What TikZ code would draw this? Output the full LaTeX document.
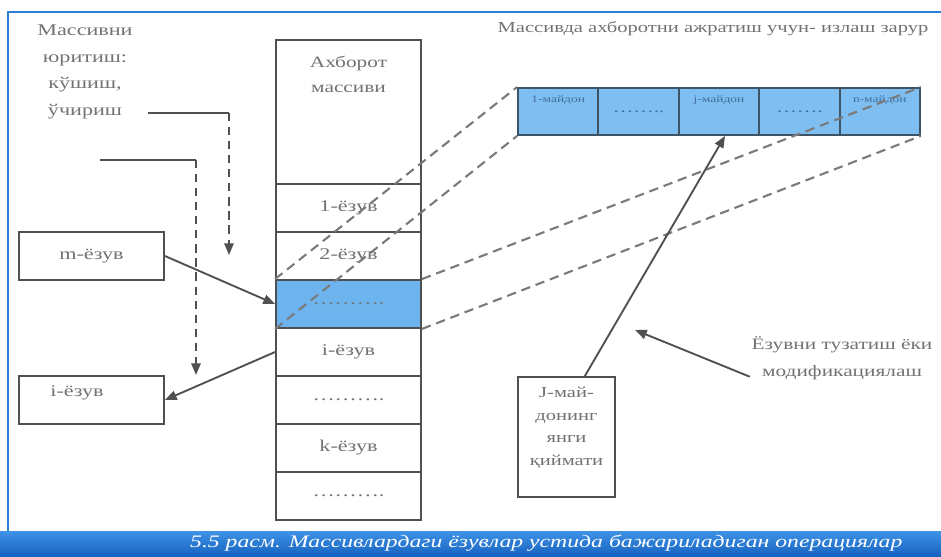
\documentclass[tikz,border=0pt]{standalone}
\usepackage{fontspec}
\setmainfont{Liberation Serif}[FakeStretch=1.35]
\usetikzlibrary{arrows.meta, positioning}

\definecolor{frameblue}{HTML}{2B7FD6}
\definecolor{capdark}{HTML}{1560BE}
\definecolor{caplight}{HTML}{3E93E6}
\definecolor{rowblue}{HTML}{6DB3EE}
\definecolor{fieldblue}{HTML}{7EBEF1}
\definecolor{fieldedge}{HTML}{3D5366}
\definecolor{fieldtext}{HTML}{3F6F9C}
\definecolor{linegray}{HTML}{505050}
\definecolor{dashgray}{HTML}{7A7A7A}
\definecolor{textgray}{HTML}{727272}

\begin{document}
\begin{tikzpicture}[
                x = 0.03cm, y = -0.03cm,
                cellbox/.style = {
                    rectangle,
                    draw            = linegray,
                    line width      = 1.6pt,
                    fill            = white,
                    minimum width   = 4.35cm,
                    minimum height  = 1.44cm,
                    inner sep       = 0pt,
                    text            = textgray,
                    font            = \fontsize{14}{16}\selectfont
                },
                fieldbox/.style = {
                    rectangle,
                    draw            = fieldedge,
                    line width      = 1.6pt,
                    fill            = fieldblue,
                    minimum width   = 2.41cm,
                    minimum height  = 1.41cm,
                    inner sep       = 0pt,
                    text            = fieldtext,
                    font            = \fontsize{13}{14}\selectfont
                },
                fieldlab/.style = {
                    anchor = north, yshift = -4pt,
                    text   = fieldtext,
                    font   = \fontsize{8.5}{9}\selectfont
                },
                plaintext/.style = {
                    text  = textgray,
                    align = center,
                    font  = \fontsize{14}{22.5}\selectfont
                },
                bigarrow/.style = {
                    draw = linegray, line width = 1.6pt,
                    -{Triangle[length = 10pt, width = 8pt]}
                },
                dasharrow/.style = {bigarrow, dash pattern = on 7pt off 5pt},
                spread/.style = {
                    draw = dashgray, line width = 1.8pt,
                    dash pattern = on 8pt off 5pt
                }
            ]

                \useasboundingbox (0, 0) rectangle (941, 557);

                \draw[frameblue, line width = 2.5pt] (8, 531) -- (8, 12) -- (941, 12);
                \shade[top color = caplight, bottom color = capdark] (0, 531) rectangle (941, 557);
                \node[anchor = west, text = white, font = \fontsize{15}{17}\selectfont\itshape] (caption) at (186, 543)
                    {5.5 расм. Массивлардаги ёзувлар устида бажариладиган операциялар};

                \node[cellbox, minimum height = 4.32cm,
                      label = {[plaintext, font = \fontsize{13.5}{21}\selectfont, anchor = north, yshift = -0.4cm]north:{Ахборот\\массиви}}] (info) at (348.5, 112) {};
                \node[cellbox] (rowa) at (348.5, 208) {1-ёзув};
                \node[cellbox] (rowb) at (348.5, 256) {2-ёзув};
                \node[cellbox, fill = rowblue] (rowsel) at (348.5, 304) {……….};
                \node[cellbox] (rowi) at (348.5, 352) {i-ёзув};
                \node[cellbox] (rowd) at (348.5, 400) {……….};
                \node[cellbox] (rowk) at (348.5, 448) {k-ёзув};
                \node[cellbox] (rowe) at (348.5, 496) {……….};

                \node[cellbox] (mrec) at (91.5, 256) {m-ёзув};
                \node[cellbox] (irec) at (91.5, 400) {};
                \node[plaintext] at (77, 393) {i-ёзув};

                \node[plaintext, font = \fontsize{14}{22.7}\selectfont] (manage) at (85, 72) {Массивни\\юритиш:\\кўшиш,\\ўчириш};
                \node[plaintext, font = \fontsize{13}{15}\selectfont] (title) at (713, 29) {Массивда ахборотни ажратиш учун- излаш зарур};

                \node[fieldbox, label = {[fieldlab]north:1-майдон}] (fa) at (558.2, 111.5) {};
                \node[fieldbox] (fb) at (638.6, 111.5) {……..};
                \node[fieldbox, label = {[fieldlab]north:j-майдон}] (fc) at (719, 111.5) {};
                \node[fieldbox] (fd) at (799.4, 111.5) {…….};
                \node[fieldbox, label = {[fieldlab]north:n-майдон}] (fe) at (879.8, 111.5) {};

                \node[cellbox, minimum width = 2.91cm, minimum height = 3.6cm,
                      label = {[plaintext, font = \fontsize{13}{19.5}\selectfont, anchor = north, yshift = -0.2cm]north:{J-май-\\донинг\\янги\\қиймати}}] (newval) at (566.5, 437) {};
                \node[plaintext, font = \fontsize{13.5}{23}\selectfont] (modif) at (842, 358) {Ёзувни тузатиш ёки\\модификациялаш};

                \coordinate (ea) at (148, 113);
                \coordinate (eb) at (229, 113);
                \coordinate (ec) at (229, 255);
                \coordinate (ed) at (100, 160);
                \coordinate (ee) at (196, 160);
                \coordinate (ef) at (196, 375);
                \coordinate (modtip) at (635, 330);

                \draw[linegray, line width = 1.6pt] (ea) -- (eb);
                \draw[dasharrow] (eb) -- (ec);
                \draw[linegray, line width = 1.6pt] (ed) -- (ee);
                \draw[dasharrow] (ee) -- (ef);

                \draw[bigarrow] (mrec.east) -- (rowsel.west);
                \draw[bigarrow] (rowi.west) -- (irec.east);

                \draw[spread] (rowsel.north west) -- (fa.north west);
                \draw[spread] (rowsel.south west) -- (fa.south west);
                \draw[spread] (rowsel.north east) -- (fe.north east);
                \draw[spread] (rowsel.south east) -- (fe.south east);

                \draw[bigarrow] ([xshift = 0.55cm]newval.north) -- ([xshift = 0.18cm]fc.south);
                \draw[bigarrow] ([xshift = 2pt, yshift = 6pt]modif.south west) -- (modtip);
            \end{tikzpicture}
\end{document}
